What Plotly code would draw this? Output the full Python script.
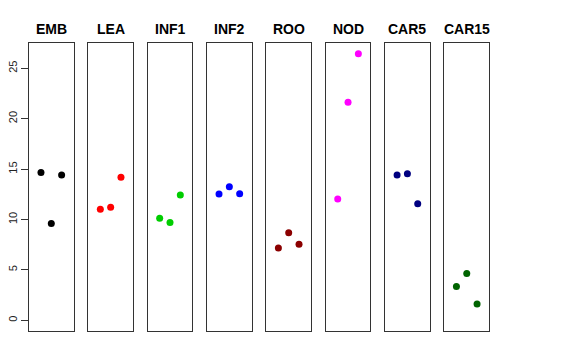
import plotly.graph_objects as go

categories = ["EMB", "LEA", "INF1", "INF2", "ROO", "NOD", "CAR5", "CAR15"]
colors = ["#000000", "#FF0000", "#00CD00", "#0000FF", "#8B0000", "#FF00FF", "#000080", "#006400"]
rep_x = [1, 2, 3]
values = [
    [14.68, 9.62, 14.41],
    [11.01, 11.21, 14.19],
    [10.12, 9.72, 12.43],
    [12.53, 13.25, 12.56],
    [7.17, 8.69, 7.54],
    [12.03, 21.63, 26.45],
    [14.41, 14.55, 11.57],
    [3.37, 4.66, 1.62],
]
y_ticks = [0, 5, 10, 15, 20, 25]

W, H = 576, 360
OFF = 8.0  # page body margin offset compensation
left0, pitch, pw = 29.0 - OFF, 59.35, 44.6
top_px, bot_px = 43.3 - OFF, 331.0 - OFF
ymin, ymax = 0, 26.43
pad = 0.04 * (ymax - ymin)
yrange = [ymin - pad, ymax + pad]
xrange = [-0.16, 4.16]

fig = go.Figure()
layout = dict(
    width=W, height=H,
    margin=dict(l=0, r=0, t=0, b=0, autoexpand=False),
    paper_bgcolor="white", plot_bgcolor="white",
    showlegend=False,
    font=dict(family="Liberation Sans, Arial, sans-serif", color="black"),
)
annotations = []
ydom = [1 - bot_px / H, 1 - top_px / H]
for i, (cat, col, vals) in enumerate(zip(categories, colors, values)):
    n = "" if i == 0 else str(i + 1)
    x0 = left0 + i * pitch
    x1 = x0 + pw
    layout["xaxis" + n] = dict(
        domain=[x0 / W, x1 / W], range=xrange, showgrid=False, zeroline=False,
        showticklabels=False, ticks="", showline=True, mirror=True,
        linecolor="#333333", linewidth=1, anchor="y" + n, fixedrange=True,
        automargin=False,
    )
    ya = dict(
        domain=ydom, range=yrange, showgrid=False, zeroline=False,
        showline=True, mirror=True, linecolor="#333333", linewidth=1,
        anchor="x" + n, fixedrange=True, automargin=False,
    )
    if i == 0:
        ya.update(tickvals=y_ticks, ticktext=[str(t) for t in y_ticks],
                  ticks="outside", ticklen=7, tickcolor="#333333",
                  tickangle=-90, tickfont=dict(size=11, color="#222222"),
                  ticklabelstandoff=0)
    else:
        ya.update(showticklabels=False, ticks="")
    layout["yaxis" + n] = ya
    fig.add_trace(go.Scatter(
        x=rep_x, y=vals, mode="markers", xaxis="x" + n, yaxis="y" + n,
        marker=dict(color=col, size=7, line=dict(width=0)),
    ))
    annotations.append(dict(
        text="<b>" + cat + "</b>", x=(x0 + x1) / 2 / W, y=1 - (38.5 - OFF) / H,
        xref="paper", yref="paper", xanchor="center", yanchor="bottom",
        showarrow=False, font=dict(size=14, color="black"),
    ))
layout["annotations"] = annotations
fig.update_layout(**layout)
fig.write_html("out.html")
